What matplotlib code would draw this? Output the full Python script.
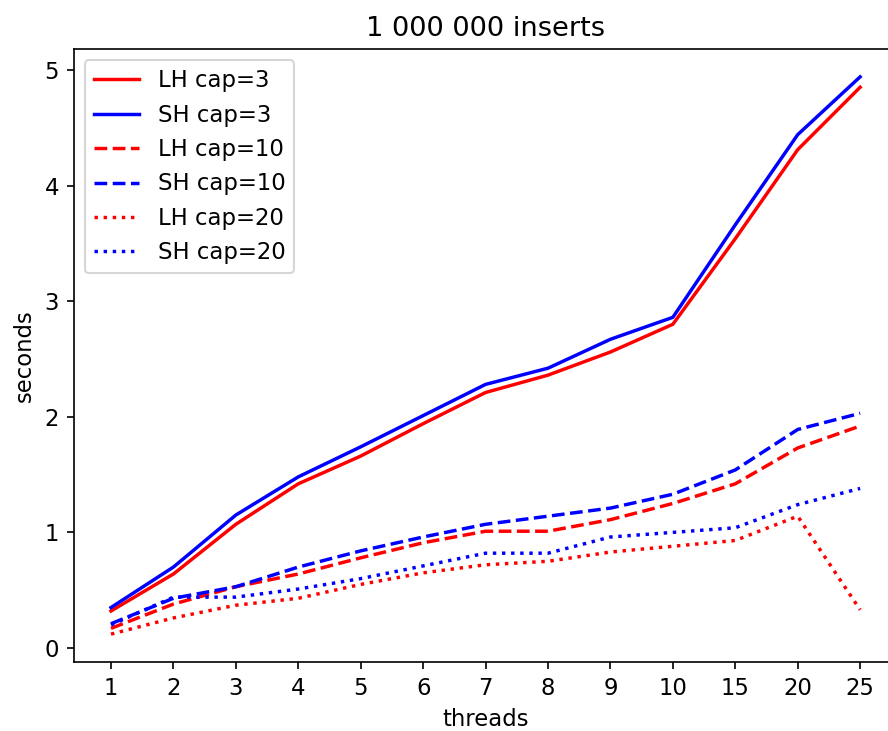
import matplotlib
matplotlib.use("Agg")
import matplotlib.pyplot as plt

plt.rcParams["font.size"] = 10.9
plt.rcParams["lines.linewidth"] = 1.65

# Data
threads = ["1", "2", "3", "4", "5", "6", "7", "8", "9", "10", "15", "20", "25"]

lh_cap3 = [0.32, 0.64, 1.07, 1.42, 1.66, 1.94, 2.21, 2.36, 2.56, 2.80, 3.54, 4.31, 4.85]
sh_cap3 = [0.35, 0.70, 1.15, 1.48, 1.74, 2.01, 2.28, 2.42, 2.67, 2.86, 3.66, 4.44, 4.94]

lh_cap10 = [0.17, 0.38, 0.53, 0.64, 0.78, 0.91, 1.01, 1.01, 1.11, 1.25, 1.42, 1.73, 1.92]
sh_cap10 = [0.21, 0.43, 0.53, 0.70, 0.84, 0.96, 1.07, 1.14, 1.21, 1.33, 1.54, 1.89, 2.03]

lh_cap20 = [0.12, 0.26, 0.37, 0.43, 0.55, 0.65, 0.72, 0.75, 0.83, 0.88, 0.93, 1.14, 0.33]
sh_cap20 = [0.20, 0.44, 0.44, 0.51, 0.60, 0.71, 0.82, 0.82, 0.96, 1.00, 1.04, 1.24, 1.38]

# Plot
fig = plt.figure(figsize=(888 / 150, 731 / 150), dpi=150)
ax = fig.add_axes([0.0828, 0.0944, 0.928, 0.8386])

ax.plot(threads, lh_cap3, color="red", linestyle="-", label="LH cap=3")
ax.plot(threads, sh_cap3, color="blue", linestyle="-", label="SH cap=3")
ax.plot(threads, lh_cap10, color="red", linestyle="--", label="LH cap=10")
ax.plot(threads, sh_cap10, color="blue", linestyle="--", label="SH cap=10")
ax.plot(threads, lh_cap20, color="red", linestyle=":", label="LH cap=20")
ax.plot(threads, sh_cap20, color="blue", linestyle=":", label="SH cap=20")

ax.set_title("1 000 000 inserts")
ax.set_xlabel("threads")
ax.set_ylabel("seconds")
ax.legend(loc="upper left")

fig.savefig("out.png", dpi=150)
